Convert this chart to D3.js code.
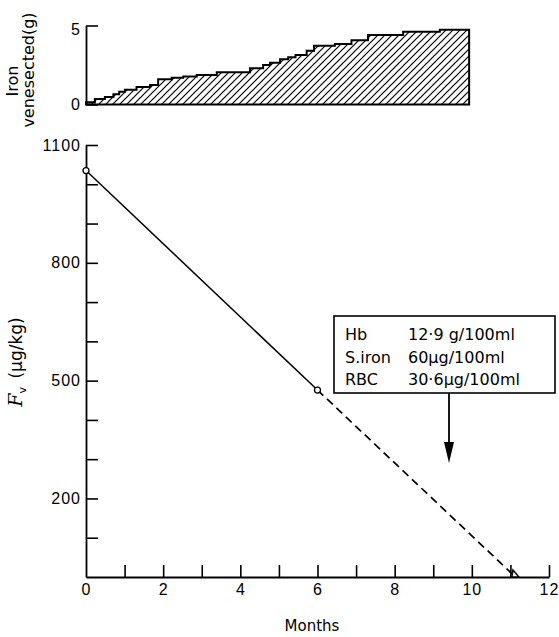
<!DOCTYPE html>
<html>
<head>
<meta charset="utf-8">
<script src="https://cdn.jsdelivr.net/npm/d3@7"></script>
<style>
  body { margin: 0; background: #fff; }
  svg { display: block; font-family: "DejaVu Sans", sans-serif; }
  .tick text { font-size: 16px; letter-spacing: 1px; fill: #000; }
</style>
</head>
<body>
<script>
// x axis (months) and y axis labels
var monthTicks = [0, 1, 2, 3, 4, 5, 6, 7, 8, 9, 10, 11, 12];
var monthLabels = [0, 2, 4, 6, 8, 10, 12];
var fvTicks = [100, 200, 300, 400, 500, 600, 700, 800, 900, 1000, 1100];
var fvLabels = [200, 500, 800, 1100];
var ironTicks = [0, 5];

// cumulative iron venesected (g), step starts in months
var ironMonths = [0, 0.23, 0.49, 0.71, 0.86, 1.01, 1.31, 1.66, 1.87, 2.22, 2.52, 2.87, 3.39, 4.25, 4.59, 4.77, 5.03, 5.24, 5.43, 5.72, 5.91, 6.45, 6.88, 7.31, 8.22, 9.17, 9.93];
var ironGrams  = [0.15, 0.35, 0.47, 0.65, 0.8, 0.94, 1.1, 1.23, 1.6, 1.7, 1.78, 1.87, 2.04, 2.29, 2.5, 2.65, 2.86, 2.99, 3.13, 3.4, 3.72, 3.83, 4.06, 4.4, 4.61, 4.73, 4.73];

// Fv measured points and extrapolation
var fvMonths = [0, 6];
var fvValues = [1035, 476];
var projMonths = [6, 11.13];
var projValues = [476, 0];

var boxLabels = ["Hb", "S.iron", "RBC"];
var boxValues = ["12·9 g/100ml", "60μg/100ml", "30·6μg/100ml"];

var width = 559, height = 637;
var svg = d3.select("body").append("svg")
    .attr("width", width)
    .attr("height", height);

var x = d3.scaleLinear().domain([0, 12]).range([86, 549]);
var y = d3.scaleLinear().domain([0, 1100]).range([577, 145]);
var yTop = d3.scaleLinear().domain([0, 5]).range([104.5, 25.5]);

// hatch pattern for the top panel
var pat = svg.append("defs").append("pattern")
    .attr("id", "hatch")
    .attr("patternUnits", "userSpaceOnUse")
    .attr("width", 7).attr("height", 7);
pat.append("path")
    .attr("d", "M-1,1 l2,-2 M0,7 l7,-7 M6,8 l2,-2")
    .attr("stroke", "#000").attr("stroke-width", 1.2);

// ---- top panel
var ironData = ironMonths.map(function (m, i) { return {m: m, g: ironGrams[i]}; });

var area = d3.area()
    .curve(d3.curveStepAfter)
    .x(function (d) { return x(d.m); })
    .y0(yTop(0))
    .y1(function (d) { return yTop(d.g); });

svg.append("path")
    .datum(ironData)
    .attr("d", area)
    .attr("fill", "url(#hatch)")
    .attr("stroke", "#000")
    .attr("stroke-width", 2)
    .attr("stroke-linejoin", "miter");

var topAxis = svg.append("g")
    .attr("transform", "translate(" + x(0) + ",0)")
    .call(d3.axisLeft(yTop).tickValues(ironTicks).tickSizeInner(-12).tickSizeOuter(0).tickPadding(5)
        .tickFormat(d3.format("d")));
topAxis.select(".domain").attr("stroke-width", 1.8);
topAxis.selectAll(".tick line").attr("stroke-width", 1.6);
topAxis.selectAll(".tick text").attr("dy", function (d) { return d === 5 ? "0.55em" : "0.32em"; });

svg.append("text")
    .attr("transform", "translate(18,81) rotate(-90)")
    .attr("text-anchor", "middle")
    .attr("font-size", 16)
    .text("Iron");
svg.append("text")
    .attr("transform", "translate(34,70) rotate(-90)")
    .attr("text-anchor", "middle")
    .attr("font-size", 16)
    .text("venesected(g)");

// ---- main panel axes
var yAxis = svg.append("g")
    .attr("transform", "translate(" + x(0) + ",0)")
    .call(d3.axisLeft(y).tickValues(fvTicks).tickSizeInner(-12).tickSizeOuter(0).tickPadding(5)
        .tickFormat(function (d) { return fvLabels.indexOf(d) >= 0 ? d : ""; }));
yAxis.select(".domain").attr("stroke-width", 1.8);
yAxis.selectAll(".tick line").attr("stroke-width", 1.6);

var xAxis = svg.append("g")
    .attr("transform", "translate(0," + y(0) + ")")
    .call(d3.axisBottom(x).tickValues(monthTicks).tickSizeInner(-12).tickSizeOuter(0).tickPadding(7)
        .tickFormat(function (d) { return monthLabels.indexOf(d) >= 0 ? d : ""; }));
xAxis.select(".domain").attr("stroke-width", 1.8);
xAxis.selectAll(".tick line").attr("stroke-width", 1.6);
xAxis.selectAll(".tick").filter(function (d) { return d === 0; }).select("line").remove();

svg.append("text")
    .attr("x", 312).attr("y", 631)
    .attr("text-anchor", "middle")
    .attr("font-size", 15)
    .text("Months");

var yLab = svg.append("text")
    .attr("transform", "translate(22,362) rotate(-90)")
    .attr("text-anchor", "middle")
    .attr("font-size", 17);
yLab.append("tspan")
    .attr("font-family", "DejaVu Serif")
    .attr("font-style", "italic")
    .attr("font-size", 19)
    .text("F");
yLab.append("tspan")
    .attr("font-size", 11)
    .attr("dy", 4)
    .text("v");
yLab.append("tspan")
    .attr("dy", -4)
    .text("\u2002(μg/kg)");

// ---- Fv line
var line = d3.line()
    .x(function (d) { return x(d[0]); })
    .y(function (d) { return y(d[1]); });

svg.append("path")
    .attr("d", line(fvMonths.map(function (m, i) { return [m, fvValues[i]]; })))
    .attr("fill", "none").attr("stroke", "#000").attr("stroke-width", 1.5);

svg.append("path")
    .attr("d", line(projMonths.map(function (m, i) { return [m, projValues[i]]; })))
    .attr("fill", "none").attr("stroke", "#000").attr("stroke-width", 1.7)
    .attr("stroke-dasharray", "8,5");

svg.selectAll("circle.pt")
    .data(fvMonths)
    .enter().append("circle")
    .attr("class", "pt")
    .attr("cx", function (d) { return x(d); })
    .attr("cy", function (d, i) { return y(fvValues[i]); })
    .attr("r", 3)
    .attr("fill", "#fff").attr("stroke", "#000").attr("stroke-width", 1.3);

// small triangle where the projection meets zero
var ex = x(projMonths[1]), ey = y(0);
svg.append("path")
    .attr("d", "M" + (ex - 3.5) + "," + ey + "L" + (ex - 2.5) + "," + (ey - 7) + "L" + (ex + 3.5) + "," + ey + "Z")
    .attr("fill", "#fff").attr("stroke", "#000").attr("stroke-width", 1.4);

// ---- annotation box and arrow
svg.append("rect")
    .attr("x", 334).attr("y", 316)
    .attr("width", 221).attr("height", 77)
    .attr("fill", "#fff").attr("stroke", "#000").attr("stroke-width", 1.6);

boxLabels.forEach(function (lab, i) {
    svg.append("text")
        .attr("x", 345).attr("y", 340 + i * 22.5)
        .attr("font-size", 16)
        .text(lab);
    svg.append("text")
        .attr("x", 408).attr("y", 340 + i * 22.5)
        .attr("font-size", 16)
        .text(boxValues[i]);
});

svg.append("line")
    .attr("x1", 449).attr("y1", 393)
    .attr("x2", 449).attr("y2", 446)
    .attr("stroke", "#000").attr("stroke-width", 1.8);
svg.append("path")
    .attr("d", "M444,442L454,442L449,463Z")
    .attr("fill", "#000");
</script>
</body>
</html>
